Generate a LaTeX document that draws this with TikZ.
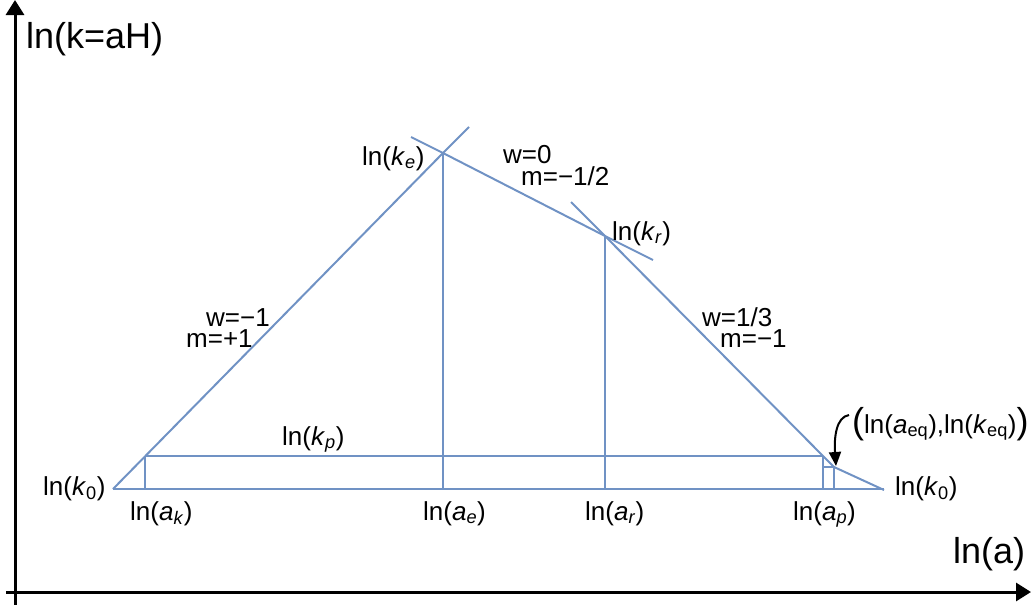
\documentclass[tikz,border=0pt]{standalone}
\usepackage{fontspec}
\setmainfont{Liberation Sans}
\usetikzlibrary{arrows.meta}
\definecolor{lineblue}{RGB}{112,146,196}
\begin{document}
\begin{tikzpicture}[x=1pt,y=-1pt,
  curve/.style={draw=lineblue,line width=2pt},
  axis/.style={draw=black,line width=3pt,-{Triangle[length=15pt,width=18pt]}},
  lab/.style={inner sep=0pt,anchor=base west,font=\fontsize{26}{30}\selectfont},
  biglab/.style={inner sep=0pt,anchor=base west,font=\fontsize{36}{40}\selectfont}]
\useasboundingbox (0,0) rectangle (1031,605);
% axes
\coordinate (yaxb) at (15,605);
\coordinate (yaxt) at (15,0);
\coordinate (xaxl) at (6,592);
\coordinate (xaxr) at (1031,592);
\draw[axis] (yaxb) -- (yaxt);
\draw[axis] (xaxl) -- (xaxr);
% key points
\coordinate (k0L) at (113,489);
\coordinate (ak) at (145,489);
\coordinate (akp) at (145,456);
\coordinate (ke) at (443,153);
\coordinate (ltop) at (469,127);
\coordinate (ae) at (443,489);
\coordinate (w0s) at (411,137);
\coordinate (w0e) at (653,260);
\coordinate (kr) at (605,236);
\coordinate (ar) at (605,489);
\coordinate (rs) at (571,202);
\coordinate (apk) at (823,456);
\coordinate (ap) at (823,489);
\coordinate (apm) at (823,467);
\coordinate (eq) at (834,467);
\coordinate (aeq) at (834,489);
\coordinate (k0R) at (884,489);
\coordinate (k0Re) at (884,490);
% blue lines
\draw[curve] (k0L) -- (ke) -- (ltop);
\draw[curve] (w0s) -- (ke) -- (kr) -- (w0e);
\draw[curve] (rs) -- (kr) -- (apk) -- (eq) -- (k0Re);
\draw[curve] (k0L) -- (k0R);
\draw[curve] (akp) -- (apk);
\draw[curve] (ak) -- (akp);
\draw[curve] (ae) -- (ke);
\draw[curve] (ar) -- (kr);
\draw[curve] (ap) -- (apk);
\draw[curve] (aeq) -- (eq);
\draw[curve] (apm) -- (eq);
% labels
\node[biglab] (ylab) at (26,48) {ln(k=aH)};
\node[biglab] (xlab) at (953,563) {ln(a)};
\node[lab] (lke) at (362,165) {ln(\textit{k}\textsubscript{\textit{e}})};
\node[lab] (lw0) at (503,163) {w=0};
\node[lab] (lm0) at (521,185) {m=−1/2};
\node[lab] (lkr) at (612,240) {ln(\textit{k}\textsubscript{\textit{r}})};
\node[lab] (lwm1) at (206,326) {w=−1};
\node[lab] (lmp1) at (186,347) {m=+1};
\node[lab] (lw13) at (702,326) {w=1/3};
\node[lab] (lmm1) at (720,347) {m=−1};
\node[lab] (lkp) at (282,445) {ln(\textit{k}\textsubscript{\textit{p}})};
\node[lab] (lk0L) at (43,495) {ln(\textit{k}\textsubscript{0})};
\node[lab] (lk0R) at (895,495) {ln(\textit{k}\textsubscript{0})};
\node[lab] (lak) at (130,520) {ln(\textit{a}\textsubscript{\textit{k}})};
\node[lab] (lae) at (423,520) {ln(\textit{a}\textsubscript{\textit{e}})};
\node[lab] (lar) at (585,520) {ln(\textit{a}\textsubscript{\textit{r}})};
\node[lab] (lap) at (793,520) {ln(\textit{a}\textsubscript{\textit{p}})};
\node[lab] (leq) at (852,433) {{\fontsize{36}{36}\selectfont(}ln(\textit{a}\textsubscript{eq}),ln(\textit{k}\textsubscript{eq}){\fontsize{36}{36}\selectfont)}};
\coordinate (eqs) at (849,415);
\coordinate (eqtip) at (836,466);
\draw[line width=2pt,-{Triangle[length=14pt,width=12pt]}] (eqs) .. controls (836,417) and (834,438) .. (eqtip);
\end{tikzpicture}
\end{document}
